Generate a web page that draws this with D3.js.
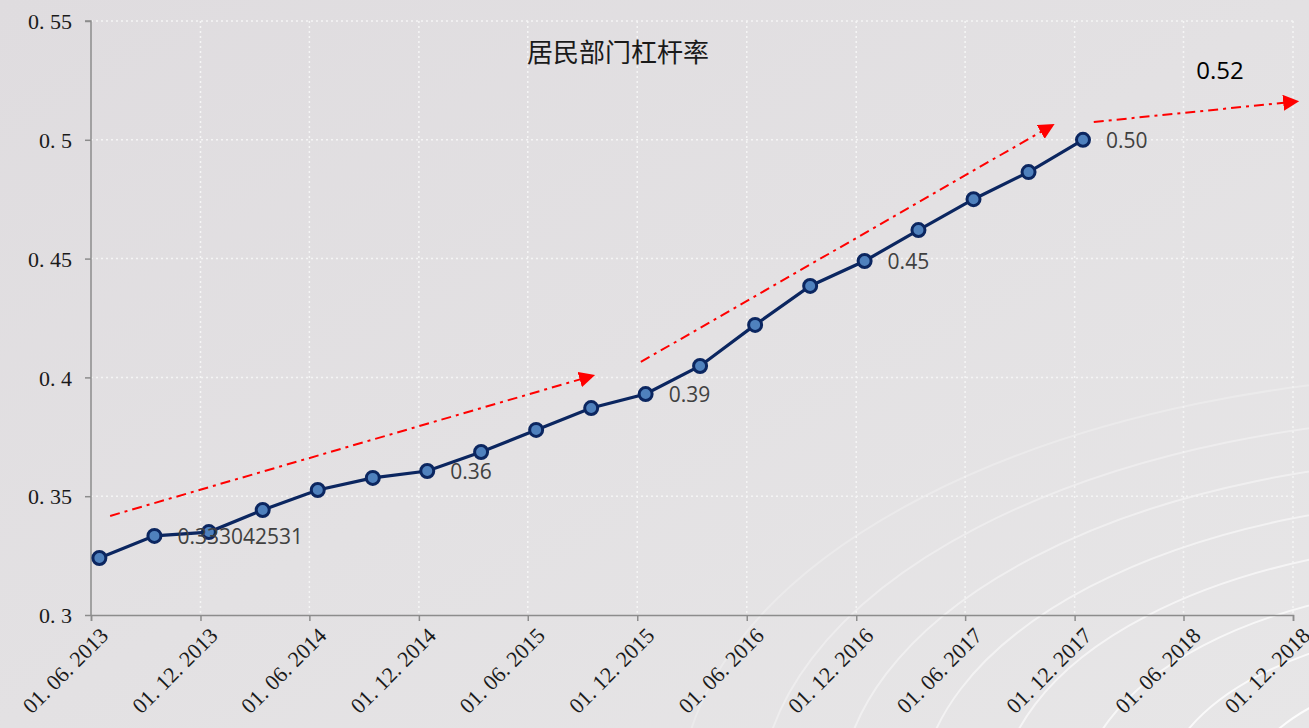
<!DOCTYPE html>
<html><head><meta charset="utf-8">
<script src="https://cdn.jsdelivr.net/npm/d3@7/dist/d3.min.js"></script>
<style>
html,body{margin:0;padding:0;overflow:hidden;background:#e2dfe2;}
</style></head>
<body><svg id="c" width="1309" height="728"></svg>
<script>
const title = "居民部门杠杆率";
const dates = ["2013-06-15","2013-09-15","2013-12-15","2014-03-15","2014-06-15","2014-09-15","2014-12-15","2015-03-15","2015-06-15","2015-09-15","2015-12-15","2016-03-15","2016-06-15","2016-09-15","2016-12-15","2017-03-15","2017-06-15","2017-09-15","2017-12-15"];
const values = [0.324,0.3333,0.3349,0.3442,0.3526,0.3577,0.3606,0.3686,0.3779,0.3871,0.393,0.4048,0.4221,0.4385,0.449,0.462,0.475,0.4864,0.500];
const labelIdx = [1,6,10,14,18];
const labelText = ["0.333042531","0.36","0.39","0.45","0.50"];
const yTicks = [0.3,0.35,0.4,0.45,0.5,0.55];
const xTicks = ["2013-06-01","2013-12-01","2014-06-01","2014-12-01","2015-06-01","2015-12-01","2016-06-01","2016-12-01","2017-06-01","2017-12-01","2018-06-01","2018-12-01"];
const arrowStart = [["2013-07-03",0.3417],["2015-12-07",0.4065],["2018-01-02",0.5075]];
const arrowEnd = [["2015-09-01",0.3995],["2017-10-10",0.5040],["2018-11-20",0.5157]];
const forecastLabel = {date:"2018-08-01", value:0.5294, text:"0.52"};

const W=1309,H=728, m={l:91,r:16,t:21,b:113};
const parse=d3.utcParse("%Y-%m-%d");
const svg=d3.select("#c");
const defs=svg.append("defs");
const bg=defs.append("linearGradient").attr("id","bg").attr("x1","0").attr("y1","0").attr("x2","1").attr("y2","1");
bg.append("stop").attr("offset","0").attr("stop-color","#dfdcdf");
bg.append("stop").attr("offset","1").attr("stop-color","#e7e6e7");
defs.append("marker").attr("id","ah").attr("viewBox","0 0 10 10").attr("refX","2").attr("refY","5")
 .attr("markerWidth",16).attr("markerHeight",16).attr("markerUnits","userSpaceOnUse").attr("orient","auto")
 .append("path").attr("d","M0,0L10,5L0,10Z").attr("fill","#ff0000");
svg.append("rect").attr("width",W).attr("height",H).attr("fill","url(#bg)");

// decorative background curves
const deco=svg.append("g").attr("fill","none").attr("stroke","#ffffff").attr("stroke-width",2);
[820,740,660,580,500,420,340,260].forEach((r,i,a)=>{
  deco.append("ellipse").attr("cx",1500).attr("cy",800).attr("rx",r).attr("ry",r*0.52)
   .attr("stroke-opacity",0.25+0.6*i/(a.length-1));
});

const x=d3.scaleUtc().domain([parse(xTicks[0]),parse(xTicks[xTicks.length-1])]).range([m.l,W-m.r]);
const y=d3.scaleLinear().domain([0.3,0.55]).range([H-m.b,m.t]);

// grid
const grid=svg.append("g").attr("stroke","#f5f5f5").attr("stroke-width",1.5).attr("stroke-dasharray","2,3");
yTicks.slice(1).forEach(v=>grid.append("line").attr("x1",m.l).attr("x2",W-m.r).attr("y1",y(v)).attr("y2",y(v)));
xTicks.slice(1).forEach(d=>grid.append("line").attr("x1",x(parse(d))).attr("x2",x(parse(d))).attr("y1",m.t).attr("y2",H-m.b));

// axes
const fmtY=v=>String(+v.toFixed(2)).replace(".",". ");
const yAx=svg.append("g").attr("transform",`translate(${m.l},0)`)
 .call(d3.axisLeft(y).tickValues(yTicks).tickFormat(fmtY).tickSize(6).tickPadding(13));
const xAx=svg.append("g").attr("transform",`translate(0,${H-m.b})`)
 .call(d3.axisBottom(x).tickValues(xTicks.map(parse)).tickFormat(d=>d3.utcFormat("%d. %m. %Y")(d)).tickSize(6));
[yAx,xAx].forEach(a=>{
 a.select(".domain").attr("stroke","#8c8c8c").attr("stroke-width",1.5);
 a.selectAll(".tick line").attr("stroke","#8c8c8c").attr("stroke-width",1.5);
 a.selectAll(".tick text").style("font-family","'Liberation Serif'").style("font-size","22px").style("fill","#1a1a1a");});
yAx.selectAll(".tick text").attr("dy","0.35em");
yAx.select(".domain").attr("d",`M-6,${y(0.55)}H0V${y(0.3)}`);
xAx.selectAll(".tick text").attr("text-anchor","end").attr("dy",0).attr("y",0)
 .attr("transform","translate(18,22) rotate(-45)");

// title
svg.append("text").attr("x",618).attr("y",62).attr("text-anchor","middle")
 .style("font-family","'Noto Sans CJK SC'").style("font-size","26px").attr("fill","#1a1a1a").text(title);

// arrows
arrowStart.forEach((s,i)=>{
  const e=arrowEnd[i];
  svg.append("line").attr("x1",x(parse(s[0]))).attr("y1",y(s[1])).attr("x2",x(parse(e[0]))).attr("y2",y(e[1]))
   .attr("stroke","#ff0000").attr("stroke-width",2).attr("stroke-dasharray","10,5,3,5").attr("marker-end","url(#ah)");
});
svg.append("text").attr("x",x(parse(forecastLabel.date))).attr("y",y(forecastLabel.value)+9).attr("text-anchor","middle")
 .style("font-family","'Open Sans'").style("font-size","24px").style("font-weight","500").attr("fill","#000").text(forecastLabel.text);

// line
const pts=dates.map((d,i)=>({d:parse(d),v:values[i]}));
svg.append("path").datum(pts).attr("fill","none").attr("stroke","#0b2660").attr("stroke-width",3.2)
 .attr("d",d3.line().x(p=>x(p.d)).y(p=>y(p.v)));
svg.selectAll("circle.pt").data(pts).join("circle").attr("class","pt")
 .attr("cx",p=>x(p.d)).attr("cy",p=>y(p.v)).attr("r",6.5).attr("fill","#4f81bd").attr("stroke","#0b2660").attr("stroke-width",3);

// data labels
labelIdx.forEach((k,j)=>{
  svg.append("text").attr("x",x(pts[k].d)+23).attr("y",y(pts[k].v)+8)
   .style("font-family","'Open Sans'").style("font-size","21px").attr("fill","#404040").text(labelText[j]);
});
</script></body></html>
